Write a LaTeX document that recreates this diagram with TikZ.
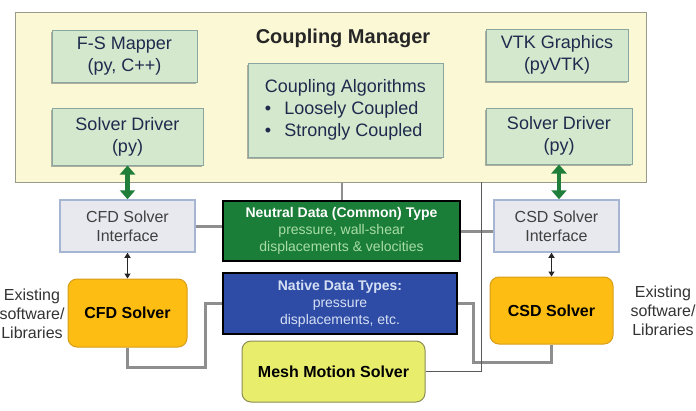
\documentclass[tikz,border=0pt]{standalone}
\usepackage{fontspec}
\setmainfont{Liberation Sans}
\usetikzlibrary{positioning,arrows.meta,shadows}

\definecolor{mgrfill}{HTML}{FBF8D6}
\definecolor{mgrline}{HTML}{9A9A8A}
\definecolor{boxfill}{HTML}{D4E8CE}
\definecolor{boxline}{HTML}{8AA6A0}
\definecolor{boxtext}{HTML}{1F2B4D}
\definecolor{iffill}{HTML}{E7E9EF}
\definecolor{ifline}{HTML}{A6B6D2}
\definecolor{neutralfill}{HTML}{1B7E38}
\definecolor{neutraltext}{HTML}{A9DDA6}
\definecolor{nativefill}{HTML}{2E4CA6}
\definecolor{nativetext}{HTML}{D6E0F4}
\definecolor{solverfill}{HTML}{FDBD12}
\definecolor{solverline}{HTML}{D89E1A}
\definecolor{meshfill}{HTML}{E8EE6C}
\definecolor{meshline}{HTML}{8C8C55}
\definecolor{arrowgreen}{HTML}{1E7E3A}
\definecolor{linkgray}{HTML}{8E8E8E}

\tikzstyle{manager} = [rectangle, draw=mgrline, fill=mgrfill, line width=1pt, inner sep=0pt]
\tikzstyle{module} = [rectangle, draw=boxline, fill=boxfill, line width=1pt, text=boxtext, align=center, inner sep=0pt, font=\fontsize{18}{22}\selectfont, drop shadow={shadow xshift=-1.5pt, shadow yshift=-2pt, fill=black!60}]
\tikzstyle{iface} = [rectangle, draw=ifline, fill=iffill, line width=1.5pt, text=black!75, align=center, inner sep=0pt, font=\fontsize{16}{19}\selectfont]
\tikzstyle{datatype} = [rectangle, draw=black, line width=2pt, align=center, inner sep=0pt, font=\fontsize{14}{17}\selectfont]
\tikzstyle{solver} = [rectangle, rounded corners=9pt, draw=solverline, fill=solverfill, line width=1pt, inner sep=0pt, font=\fontsize{16}{19}\selectfont\bfseries]
\tikzstyle{note} = [align=center, text=black!80, font=\fontsize{16}{19}\selectfont]
\tikzstyle{garrow} = [line width=4.5pt, arrowgreen, {Triangle[width=15pt,length=9pt]}-{Triangle[width=15pt,length=9pt]}]
\tikzstyle{barrow} = [line width=1.6pt, black!85, {Triangle[width=6pt,length=5pt]}-{Triangle[width=6pt,length=5pt]}]
\tikzstyle{link} = [draw=linkgray, line width=3pt]
\tikzstyle{thinlink} = [draw=black!65, line width=1pt]

\begin{document}
\begin{tikzpicture}[x=1pt, y=-1pt]
\useasboundingbox (0,0) rectangle (696,410);

% coupling manager with its modules
\node (manager) [manager, minimum width=631pt, minimum height=170pt] at (330.5,97) {};
\node (title) [font=\fontsize{20}{24}\selectfont\bfseries, text=black!85] at (343,38) {Coupling Manager};
\node (mapper) [module, minimum width=145pt, minimum height=52pt] at (124.5,56) {F-S Mapper\\(py, C++)};
\node (driverL) [module, minimum width=151pt, minimum height=57pt] at (127.5,136.5) {Solver Driver\\(py)};
\node (algo) [module, minimum width=195pt, minimum height=94pt] at (345.5,110) {\begin{tabular}{@{}l@{\hspace{13pt}}l@{}}\multicolumn{2}{@{}c@{}}{Coupling Algorithms}\\ \textbullet & Loosely Coupled\\ \textbullet & Strongly Coupled\end{tabular}};
\node (vtk) [module, minimum width=142pt, minimum height=52pt] at (557,55) {VTK Graphics\\(pyVTK)};
\node (driverR) [module, minimum width=146pt, minimum height=56pt] at (559,136) {Solver Driver\\(py)};

% interfaces and data types
\node (cfdif) [iface, minimum width=135pt, minimum height=52pt] at (127.5,226) {CFD Solver\\Interface};
\node (csdif) [iface, minimum width=125pt, minimum height=52pt] at (556.5,226) {CSD Solver\\Interface};
\node (neutral) [datatype, fill=neutralfill, text=neutraltext, minimum width=237pt, minimum height=60pt] at (341.5,231) {\textcolor{white}{\bfseries Neutral Data (Common) Type}\\pressure, wall-shear\\displacements \& velocities};
\node (native) [datatype, fill=nativefill, text=nativetext, minimum width=234pt, minimum height=61pt] at (340,303.5) {{\bfseries Native Data Types:}\\pressure\\displacements, etc.};

% solvers
\node (cfd) [solver, minimum width=119pt, minimum height=68pt] at (127.5,313) {CFD Solver};
\node (csd) [solver, minimum width=123pt, minimum height=67pt] at (551.5,310.5) {CSD Solver};
\node (mesh) [solver, fill=meshfill, draw=meshline, minimum width=183pt, minimum height=61pt] at (333.5,371.5) {Mesh Motion Solver};
\node (existL) [note] at (32,314) {Existing\\software/\\Libraries};
\node (existR) [note] at (663,311) {Existing\\software/\\Libraries};

\coordinate (bendL) at (205,367);
\coordinate (bendR) at (473,362);
\coordinate (mgrR) at (481,182);

\draw [garrow] (driverL.south) -- (cfdif.north);
\draw [garrow] (driverR.south) -- (driverR.south |- csdif.north);
\draw [barrow] (cfdif.south) -- (cfd.north);
\draw [barrow] (csd.north |- csdif.south) -- (csd.north);

\draw [link, line width=2pt] (neutral.north |- manager.south) -- (neutral.north);
\draw [link] (cfdif.east) -- (cfdif.east -| neutral.west);
\draw [link] (neutral.east) -- (neutral.east -| csdif.west);
\draw [link] (cfd.south) |- (bendL) |- (native.west);
\draw [link] (native.east) -| (bendR) -| (csd.south);
\draw [thinlink] (mesh.east) -| (mgrR);
\end{tikzpicture}
\end{document}
